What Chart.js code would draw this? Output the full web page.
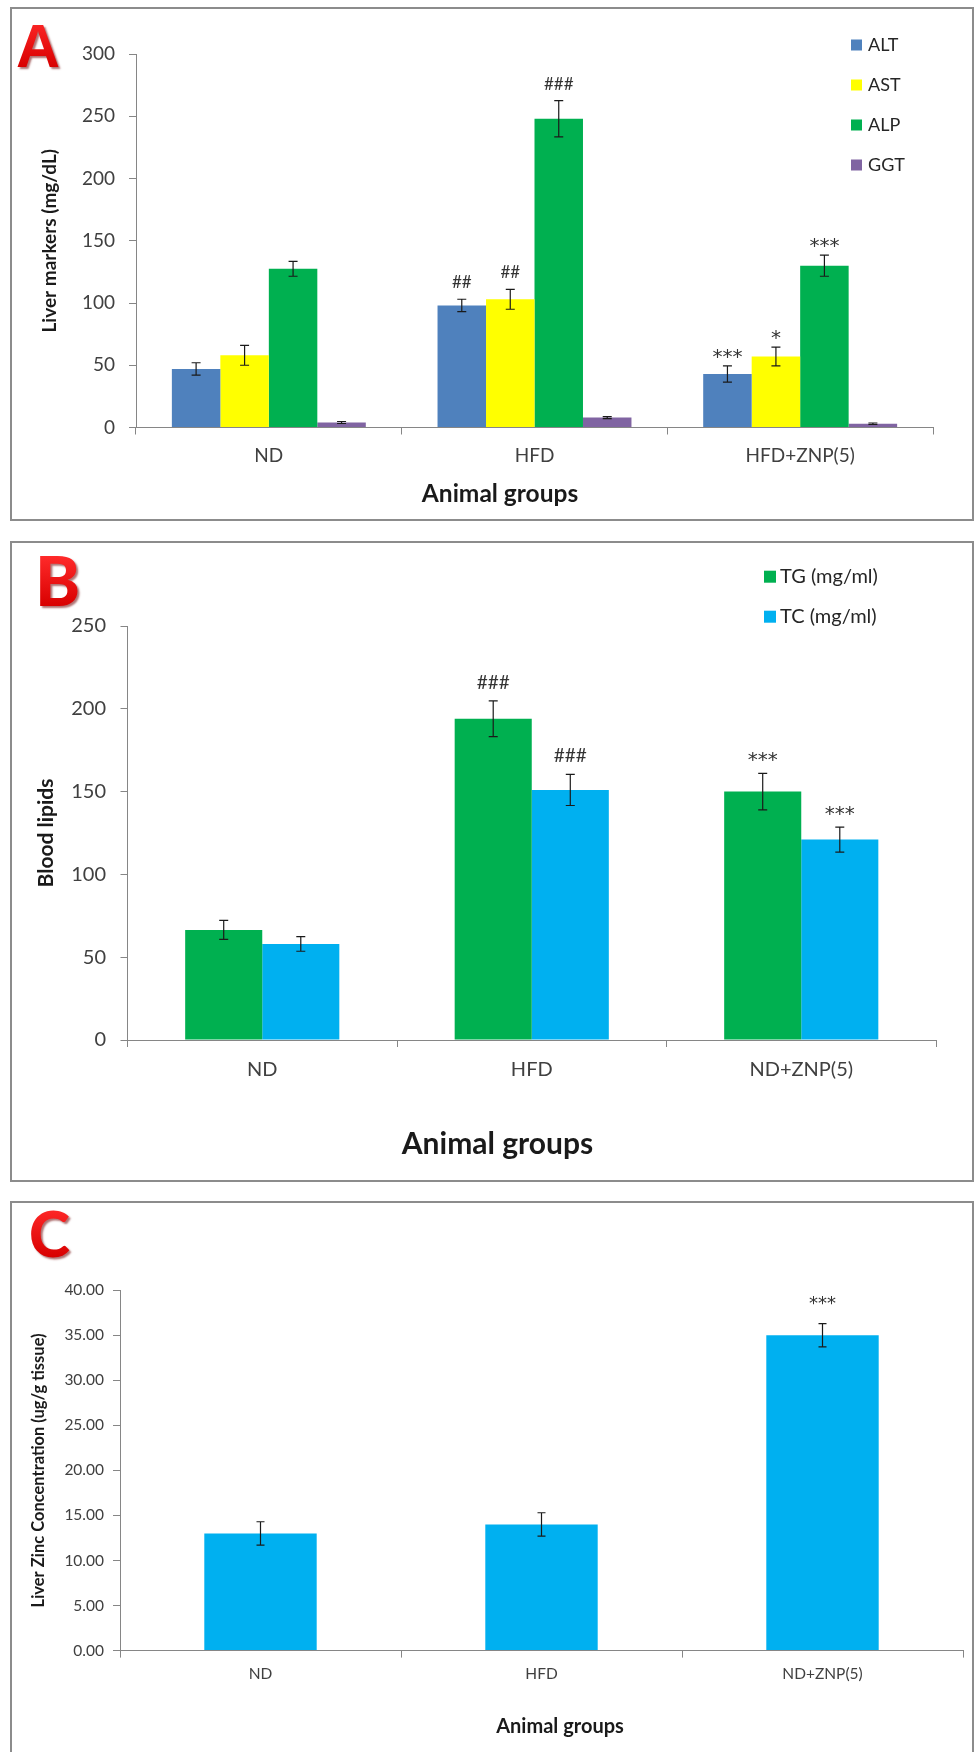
<!DOCTYPE html>
<html>
<head>
<meta charset="utf-8">
<script src="https://cdn.jsdelivr.net/npm/chart.js@4.4.1/dist/chart.umd.min.js"></script>
<style>
  html, body { margin: 0; padding: 0; background: #fff; }
  body { position: relative; width: 975px; height: 1752px; overflow: hidden; }
  .frame { position: absolute; box-sizing: border-box; border: 2px solid #8c8c8c; }
  canvas { position: absolute; left: 0; }
</style>
</head>
<body>
<div class="frame" style="left:10px;top:7px;width:964px;height:514px"></div>
<div class="frame" style="left:10px;top:541px;width:964px;height:641px"></div>
<div class="frame" style="left:10px;top:1201px;width:964px;height:580px"></div>
<canvas id="chartA" width="975" height="530" style="top:0"></canvas>
<canvas id="chartB" width="975" height="660" style="top:530px"></canvas>
<canvas id="chartC" width="975" height="562" style="top:1190px"></canvas>

<script>
// Panel A - liver markers
const groupsA = ["ND", "HFD", "HFD+ZNP(5)"];
const altValues = [47, 98, 43];
const altErrors = [5, 5, 6.5];
const altMarks = ["", "##", "***"];
const astValues = [58, 103, 57];
const astErrors = [8, 8, 7.5];
const astMarks = ["", "##", "*"];
const alpValues = [127.5, 248, 130];
const alpErrors = [6, 14.5, 8.5];
const alpMarks = ["", "###", "***"];
const ggtValues = [4, 8, 3];
const ggtErrors = [0.8, 0.8, 0.6];
const yTicksA = [0, 50, 100, 150, 200, 250, 300];

// Panel B - blood lipids
const groupsB = ["ND", "HFD", "ND+ZNP(5)"];
const tgValues = [66.5, 194, 150];
const tgErrors = [5.7, 10.8, 11];
const tgMarks = ["", "###", "***"];
const tcValues = [58, 151, 121];
const tcErrors = [4.4, 9.4, 7.6];
const tcMarks = ["", "###", "***"];
const yTicksB = [0, 50, 100, 150, 200, 250];

// Panel C - liver zinc
const groupsC = ["ND", "HFD", "ND+ZNP(5)"];
const zincValues = [13.0, 14.0, 35.0];
const zincErrors = [1.3, 1.3, 1.3];
const zincMarks = ["", "", "***"];
const yTicksC = [0, 5, 10, 15, 20, 25, 30, 35, 40];

const axisGray = "#868686";
const labelGray = "#404040";

// error bars + significance marks
const errorBarPlugin = {
  id: "errorBars",
  afterDatasetsDraw(chart, args, opts) {
    const ctx = chart.ctx;
    const yScale = chart.scales.y;
    chart.data.datasets.forEach((ds, i) => {
      if (!ds.errors) return;
      const meta = chart.getDatasetMeta(i);
      meta.data.forEach((bar, j) => {
        const v = ds.data[j];
        const e = ds.errors[j];
        const top = yScale.getPixelForValue(v + e);
        const bot = yScale.getPixelForValue(v - e);
        ctx.save();
        ctx.strokeStyle = "#1a1a1a";
        ctx.lineWidth = 1.2;
        ctx.beginPath();
        ctx.moveTo(bar.x, top);
        ctx.lineTo(bar.x, bot);
        ctx.moveTo(bar.x - opts.cap, top);
        ctx.lineTo(bar.x + opts.cap, top);
        ctx.moveTo(bar.x - opts.cap, bot);
        ctx.lineTo(bar.x + opts.cap, bot);
        ctx.stroke();
        const mark = ds.marks ? ds.marks[j] : "";
        if (mark) {
          const isHash = mark[0] === "#";
          ctx.fillStyle = "#333";
          ctx.font = isHash ? opts.hashFont : opts.starFont;
          ctx.textAlign = "center";
          ctx.textBaseline = "alphabetic";
          ctx.fillText(mark, bar.x, top - (isHash ? opts.hashGap : opts.starGap));
        }
        ctx.restore();
      });
    });
  },
};

// vertical legend in the top right corner
const sideLegendPlugin = {
  id: "sideLegend",
  afterDraw(chart, args, opts) {
    if (!opts.show) return;
    const ctx = chart.ctx;
    ctx.save();
    ctx.font = opts.font;
    ctx.textBaseline = "middle";
    ctx.textAlign = "left";
    chart.data.datasets.forEach((ds, i) => {
      const cy = opts.y + i * opts.step;
      ctx.fillStyle = ds.backgroundColor;
      ctx.fillRect(opts.x, cy - opts.box / 2, opts.box, opts.box);
      ctx.fillStyle = "#262626";
      ctx.fillText(ds.label, opts.x + opts.box + opts.textGap, cy);
    });
    ctx.restore();
  },
};

// panel letter and x axis title
const panelTextPlugin = {
  id: "panelText",
  afterDraw(chart, args, opts) {
    const ctx = chart.ctx;
    ctx.save();
    ctx.font = opts.letterFont;
    ctx.textAlign = "left";
    ctx.textBaseline = "alphabetic";
    ctx.shadowColor = "rgba(110,0,0,0.55)";
    ctx.shadowOffsetX = 2;
    ctx.shadowOffsetY = 2;
    ctx.shadowBlur = 2;
    const g = ctx.createLinearGradient(0, opts.letterY - 50, 0, opts.letterY);
    g.addColorStop(0, "#ff2a2a");
    g.addColorStop(1, "#d80000");
    ctx.fillStyle = g;
    ctx.fillText(opts.letter, opts.letterX, opts.letterY);
    ctx.restore();
    ctx.save();
    ctx.font = opts.titleFont;
    ctx.fillStyle = "#1a1a1a";
    ctx.textAlign = "center";
    ctx.textBaseline = "middle";
    ctx.fillText("Animal groups", opts.titleX, opts.titleY);
    ctx.restore();
  },
};

function fixedTicks(list) {
  return (scale) => {
    scale.ticks = list.map((v) => ({ value: v }));
  };
}

function makeChart(id, cfg) {
  return new Chart(document.getElementById(id), {
    type: "bar",
    data: { labels: cfg.labels, datasets: cfg.datasets },
    plugins: [errorBarPlugin, sideLegendPlugin, panelTextPlugin],
    options: {
      responsive: false,
      animation: false,
      layout: { padding: { left: 0, right: cfg.padRight, top: cfg.padTop, bottom: 0 } },
      datasets: {
        bar: { categoryPercentage: cfg.catPct, barPercentage: cfg.barPct, borderWidth: 0 },
      },
      plugins: {
        legend: { display: false },
        tooltip: { enabled: false },
        errorBars: cfg.errorOpts,
        sideLegend: cfg.legendOpts,
        panelText: cfg.textOpts,
      },
      scales: {
        x: {
          offset: true,
          grid: {
            display: true,
            drawOnChartArea: false,
            drawTicks: true,
            tickLength: 7,
            color: axisGray,
            offset: true,
          },
          border: { display: true, color: axisGray, width: 1 },
          ticks: {
            color: labelGray,
            padding: cfg.xPad,
            font: { family: "Lato", size: cfg.xFont },
            maxRotation: 0,
          },
          afterFit: (s) => {
            s.height = cfg.xHeight;
          },
        },
        y: {
          min: cfg.yMin,
          max: cfg.yMax,
          afterBuildTicks: fixedTicks(cfg.yTicks),
          grid: {
            display: true,
            drawOnChartArea: false,
            drawTicks: true,
            tickLength: 7,
            color: axisGray,
          },
          border: { display: true, color: axisGray, width: 1 },
          ticks: {
            color: labelGray,
            padding: cfg.yPad,
            font: { family: "Lato", size: cfg.yFont },
            callback: cfg.yFormat,
          },
          title: {
            display: true,
            text: cfg.yTitle,
            color: "#1a1a1a",
            font: { family: "Lato", weight: "bold", size: cfg.yTitleFont },
            padding: { top: cfg.yTitlePad, bottom: 0 },
          },
          afterFit: (s) => {
            s.width = cfg.yWidth;
          },
        },
      },
    },
  });
}

makeChart("chartA", {
  labels: groupsA,
  datasets: [
    { label: "ALT", data: altValues, errors: altErrors, marks: altMarks, backgroundColor: "#4F81BD" },
    { label: "AST", data: astValues, errors: astErrors, marks: astMarks, backgroundColor: "#FFFF00" },
    { label: "ALP", data: alpValues, errors: alpErrors, marks: alpMarks, backgroundColor: "#00B050" },
    { label: "GGT", data: ggtValues, errors: ggtErrors, backgroundColor: "#8064A2" },
  ],
  padRight: 42,
  padTop: 54,
  catPct: 0.73,
  barPct: 1.0,
  xHeight: 102.5,
  xPad: 10,
  xFont: 19,
  yMin: 0,
  yMax: 300,
  yTicks: yTicksA,
  yPad: 14,
  yFont: 19,
  yFormat: (v) => String(v),
  yTitle: "Liver markers (mg/dL)",
  yTitleFont: 19,
  yTitlePad: 38.5,
  yWidth: 136,
  errorOpts: { cap: 4.5, hashFont: "17px Lato", starFont: "20px 'DejaVu Sans'", hashGap: 11, starGap: 3 },
  legendOpts: { show: true, x: 851, y: 45, step: 40, box: 11, textGap: 6, font: "18px Lato" },
  textOpts: {
    letter: "A", letterX: 16, letterY: 67, letterFont: "bold 61px 'Liberation Sans'",
    titleX: 500, titleY: 494, titleFont: "bold 24.5px Lato",
  },
});

makeChart("chartB", {
  labels: groupsB,
  datasets: [
    { label: "TG (mg/ml)", data: tgValues, errors: tgErrors, marks: tgMarks, backgroundColor: "#00B050" },
    { label: "TC (mg/ml)", data: tcValues, errors: tcErrors, marks: tcMarks, backgroundColor: "#00B0F0" },
  ],
  padRight: 39,
  padTop: 96,
  catPct: 0.572,
  barPct: 1.0,
  xHeight: 150,
  xPad: 10.5,
  xFont: 20,
  yMin: 0,
  yMax: 250,
  yTicks: yTicksB,
  yPad: 14.5,
  yFont: 20,
  yFormat: (v) => String(v),
  yTitle: "Blood lipids",
  yTitleFont: 21,
  yTitlePad: 34,
  yWidth: 127.5,
  errorOpts: { cap: 4.5, hashFont: "19px Lato", starFont: "20px 'DejaVu Sans'", hashGap: 12, starGap: 7 },
  legendOpts: { show: true, x: 764, y: 46.7, step: 40, box: 12, textGap: 4, font: "20px Lato" },
  textOpts: {
    letter: "B", letterX: 35, letterY: 76, letterFont: "900 68px Lato",
    titleX: 497.5, titleY: 614.5, titleFont: "bold 30px Lato",
  },
});

makeChart("chartC", {
  labels: groupsC,
  datasets: [
    { label: "Zinc", data: zincValues, errors: zincErrors, marks: zincMarks, backgroundColor: "#00B0F0" },
  ],
  padRight: 12,
  padTop: 100.2,
  catPct: 0.4,
  barPct: 1.0,
  xHeight: 101.4,
  xPad: 7.5,
  xFont: 15.5,
  yMin: 0,
  yMax: 40,
  yTicks: yTicksC,
  yPad: 9,
  yFont: 15.5,
  yFormat: (v) => v.toFixed(2),
  yTitle: "Liver Zinc Concentration (ug/g tissue)",
  yTitleFont: 16.5,
  yTitlePad: 28.5,
  yWidth: 120,
  errorOpts: { cap: 4, hashFont: "16px Lato", starFont: "18px 'DejaVu Sans'", hashGap: 11, starGap: 15 },
  legendOpts: { show: false },
  textOpts: {
    letter: "C", letterX: 29, letterY: 67, letterFont: "900 62px Lato",
    titleX: 560, titleY: 537, titleFont: "bold 20px Lato",
  },
});
</script>
</body>
</html>
